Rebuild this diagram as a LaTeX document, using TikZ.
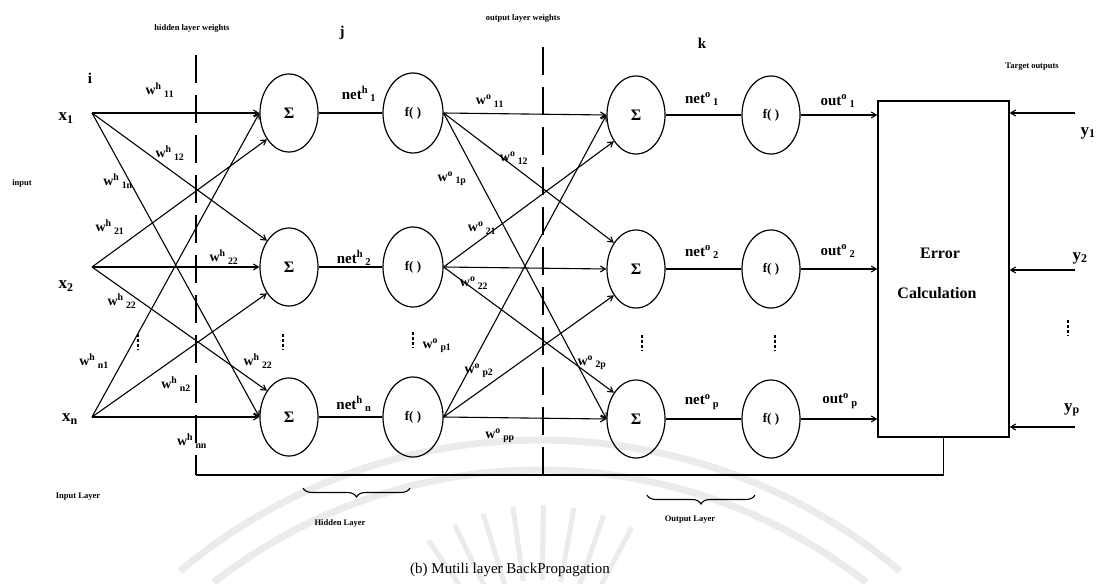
\documentclass[tikz,border=0pt]{standalone}
\usepackage{fontspec}
\setmainfont{Liberation Serif}
\usetikzlibrary{shapes.geometric,arrows.meta,decorations.pathreplacing}
\newcommand\wgt[2]{$\mathbf{w}^{\mathbf{#1}}\,{}_{\mathbf{#2}}$}
\newcommand\netl[2]{\textbf{net}$^{\mathbf{#1}}\,{}_{\mathbf{#2}}$}
\newcommand\outl[2]{\textbf{out}$^{\mathbf{#1}}\,{}_{\mathbf{#2}}$}
\begin{document}
\begin{tikzpicture}[x=1pt,y=-1pt,
  neuron/.style={draw,ellipse,minimum width=58pt,minimum height=78pt,inner sep=0pt,line width=1.2pt,font=\fontsize{16}{18}\selectfont\bfseries},
  conn/.style={line width=1.1pt,-{Straight Barb[length=5pt,width=6pt]}},
  wire/.style={line width=1.1pt},
  divider/.style={line width=2.6pt,dash pattern=on 28pt off 12pt},
  lbl/.style={font=\fontsize{17}{19}\selectfont\bfseries,inner sep=0pt},
  nl/.style={font=\fontsize{15}{17}\selectfont,inner sep=0pt},
  wl/.style={font=\fontsize{14}{16}\selectfont,inner sep=0pt},
  tiny/.style={font=\fontsize{8.5}{10}\selectfont\bfseries,inner sep=0pt},
  vdot/.style={line width=1.6pt,dash pattern=on 2.5pt off 2.5pt},
  wm/.style={gray!16,line width=7pt}
]
\useasboundingbox[fill=white] (0,0) rectangle (1107,583);
% watermark
\draw[wm] (540,1000) ++(-130:560) arc[start angle=-130,end angle=-50,radius=560];
\draw[wm] (540,1000) ++(-128:530) arc[start angle=-128,end angle=-52,radius=530];
\foreach \a in {-125,-116,...,-55}
  \draw[gray!16,line width=5pt] (540,700) ++(\a:120) -- ++(\a:75);

% dividers
\coordinate (d1t) at (196,55);
\coordinate (d1b) at (196,475);
\coordinate (d2t) at (543,47);
\coordinate (d2b) at (543,475);
\draw[divider] (d1t) -- (d1b);
\draw[divider] (d2t) -- (d2b);

% inputs
\coordinate (x1) at (92,113);
\coordinate (x2) at (92,267);
\coordinate (xn) at (92,417);
\node[lbl] (lx1) at (66,118) {x$_{\mathbf 1}$};
\node[lbl] (lx2) at (66,286) {x$_{\mathbf 2}$};
\node[lbl] (lxn) at (70,419) {x$_{\mathbf n}$};

% hidden layer
\node[neuron] (S1) at (289,113) {Σ};
\node[neuron] (S2) at (289,267) {Σ};
\node[neuron] (Sn) at (289,417) {Σ};
\node[neuron,minimum width=60pt,minimum height=80pt,font=\fontsize{13}{15}\selectfont\bfseries] (F1) at (413,113) {f( )};
\node[neuron,minimum width=60pt,minimum height=80pt,font=\fontsize{13}{15}\selectfont\bfseries] (F2) at (413,267) {f( )};
\node[neuron,minimum width=60pt,minimum height=80pt,font=\fontsize{13}{15}\selectfont\bfseries] (Fn) at (413,417) {f( )};

% output layer
\node[neuron] (O1) at (636,115) {Σ};
\node[neuron] (O2) at (636,269) {Σ};
\node[neuron] (Op) at (636,419) {Σ};
\node[neuron,font=\fontsize{13}{15}\selectfont\bfseries] (G1) at (771,115) {f( )};
\node[neuron,font=\fontsize{13}{15}\selectfont\bfseries] (G2) at (771,269) {f( )};
\node[neuron,font=\fontsize{13}{15}\selectfont\bfseries] (Gp) at (771,419) {f( )};

% error box
\node[draw,line width=1.4pt,minimum width=131pt,minimum height=336pt,inner sep=0pt] (E) at (943.5,269) {};
\node[lbl,font=\fontsize{16}{18}\selectfont\bfseries] (Et1) at (940,253) {Error};
\node[lbl,font=\fontsize{16}{18}\selectfont\bfseries] (Et2) at (937,293) {Calculation};

% input -> hidden sigma
\draw[conn] (x1) -- (S1.west);
\draw[conn] (x1) -- (S2.130);
\draw[conn] (x1) -- (Sn.west);
\draw[conn] (x2) -- (S1.230);
\draw[conn] (x2) -- (S2.west);
\draw[conn] (x2) -- (Sn.130);
\draw[conn] (xn) -- (S1.west);
\draw[conn] (xn) -- (S2.230);
\draw[conn] (xn) -- (Sn.west);

% sigma -> f
\draw[wire] (S1) -- (F1);
\draw[wire] (S2) -- (F2);
\draw[wire] (Sn) -- (Fn);
\draw[wire] (O1) -- (G1);
\draw[wire] (O2) -- (G2);
\draw[wire] (Op) -- (Gp);

% hidden f -> output sigma
\draw[conn] (F1.east) -- (O1.west);
\draw[conn] (F1.east) -- (O2.130);
\draw[conn] (F1.east) -- (Op.west);
\draw[conn] (F2.east) -- (O1.230);
\draw[conn] (F2.east) -- (O2.west);
\draw[conn] (F2.east) -- (Op.130);
\draw[conn] (Fn.east) -- (O1.west);
\draw[conn] (Fn.east) -- (O2.230);
\draw[conn] (Fn.east) -- (Op.west);

% outputs -> error box
\draw[conn] (G1.east) -- (E.west |- G1.east);
\draw[conn] (G2.east) -- (E.west |- G2.east);
\draw[conn] (Gp.east) -- (E.west |- Gp.east);

% targets
\coordinate (t1) at (1075,113);
\coordinate (t2) at (1075,270);
\coordinate (tp) at (1075,427);
\draw[conn] (t1) -- (E.east |- t1);
\draw[conn] (t2) -- (E.east |- t2);
\draw[conn] (tp) -- (E.east |- tp);
\node[lbl] (ly1) at (1088,133) {y$_{\mathbf 1}$};
\node[lbl] (ly2) at (1080,258) {y$_{\mathbf 2}$};
\node[lbl] (lyp) at (1072,410) {y$_{\mathbf p}$};

% feedback
\draw[wire] (E.south) |- (d1b);

% net / out labels
\node[nl] (nh1) at (359,94) {\netl{h}{1}};
\node[nl] (nh2) at (354,258) {\netl{h}{2}};
\node[nl] (nhn) at (354,404) {\netl{h}{n}};
\node[nl] (no1) at (702,99) {\netl{o}{1}};
\node[nl] (no2) at (702,252) {\netl{o}{2}};
\node[nl] (nop) at (702,402) {\netl{o}{p}};
\node[nl] (ou1) at (838,101) {\outl{o}{1}};
\node[nl] (ou2) at (838,251) {\outl{o}{2}};
\node[nl] (oup) at (840,401) {\outl{o}{p}};

% hidden weights
\node[wl] (wh11) at (160,90) {\wgt{h}{11}};
\node[wl] (wh12) at (170,153) {\wgt{h}{12}};
\node[wl] (wh1n) at (118,181) {\wgt{h}{1n}};
\node[wl] (wh21) at (110,227) {\wgt{h}{21}};
\node[wl] (wh22) at (224,257) {\wgt{h}{22}};
\node[wl] (wh2n) at (122,301) {\wgt{h}{22}};
\node[wl] (whx) at (258,361) {\wgt{h}{22}};
\node[wl] (whn1) at (94,361) {\wgt{h}{n1}};
\node[wl] (whn2) at (176,384) {\wgt{h}{n2}};
\node[wl] (whnn) at (192,441) {\wgt{h}{nn}};

% output weights
\node[wl] (wo11) at (490,101) {\wgt{o}{11}};
\node[wl] (wo12) at (514,158) {\wgt{o}{12}};
\node[wl] (wo1p) at (452,179) {\wgt{o}{1p}};
\node[wl] (wo21) at (482,228) {\wgt{o}{21}};
\node[wl] (wo22) at (474,283) {\wgt{o}{22}};
\node[wl] (wop1) at (437,346) {\wgt{o}{p1}};
\node[wl] (wop2) at (479,371) {\wgt{o}{p2}};
\node[wl] (wo2p) at (592,363) {\wgt{o}{2p}};
\node[wl] (wopp) at (500,436) {\wgt{o}{pp}};

% vertical ellipses
\foreach \px/\py in {138/342, 283/342, 413/340, 642/343, 775/343, 1068/328}
  \draw[vdot] (\px,\py-8) -- (\px,\py+8);

% indices
\node[lbl,font=\fontsize{15}{17}\selectfont\bfseries] (li) at (90,78) {i};
\node[lbl,font=\fontsize{15}{17}\selectfont\bfseries] (lj) at (342,33) {j};
\node[lbl,font=\fontsize{15}{17}\selectfont\bfseries] (lk) at (702,43) {k};

% small captions
\node[tiny] (hw) at (192,28) {hidden layer weights};
\node[tiny] (ow) at (523,18) {output layer weights};
\node[tiny] (tg) at (1032,67) {Target outputs};
\node[tiny] (inp) at (22,183) {input};
\node[tiny] (il) at (78,497) {Input Layer};
\node[tiny] (hl) at (340,523) {Hidden Layer};
\node[tiny] (ol) at (690,520) {Output Layer};

% braces
\coordinate (hb1) at (303,488);
\coordinate (hb2) at (410,488);
\coordinate (ob1) at (647,495);
\coordinate (ob2) at (755,495);
\draw[wire,decorate,decoration={brace,mirror,amplitude=9pt}] (hb1) -- (hb2);
\draw[wire,decorate,decoration={brace,mirror,amplitude=9pt}] (ob1) -- (ob2);

% caption
\node[inner sep=0pt,font=\fontsize{15}{17}\selectfont] (cap) at (510,570) {(b) Mutili layer BackPropagation};
\end{tikzpicture}
\end{document}
